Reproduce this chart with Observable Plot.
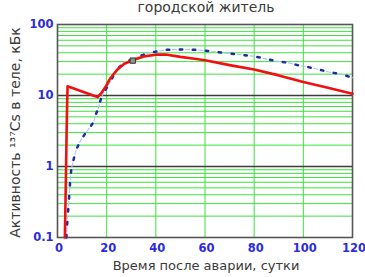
<!DOCTYPE html>
<html>
<head>
<meta charset="utf-8">
<script src="https://cdn.jsdelivr.net/npm/d3@7"></script>
<script src="https://cdn.jsdelivr.net/npm/@observablehq/plot@0.6"></script>
<style>
  html, body { margin: 0; padding: 0; background: #fff; }
</style>
</head>
<body>
<div id="chart"></div>
<script>
// Red curve (solid)
const redDays = [3.0, 3.3, 3.5, 3.7, 3.9, 4.1, 10, 16.3, 18, 19.7, 21.5, 24.5, 27.2, 30.6, 35.3, 40, 44, 50, 55, 60, 70, 80, 90, 100, 110, 120];
const redVals = [0.1, 0.4, 1, 3, 7, 13.5, 11.4, 9.5, 11, 13.5, 17.5, 23.5, 28, 31.3, 35.6, 37.6, 37.8, 35, 33.2, 31.3, 26.8, 23.2, 19.2, 15.5, 12.9, 10.6];

// Blue curve (dotted)
const blueDays = [3.6, 4.15, 4.56, 4.8, 5.1, 5.6, 6.7, 7.6, 9.5, 11.4, 13, 14.8, 15.5, 16.6, 17.1, 17.9, 18.6, 19.7, 21.1, 23.1, 25.1, 27.2, 30, 33.3, 36, 40, 44.5, 49, 54, 58.4, 62.5, 67.2, 72, 76, 80.4, 85, 89, 94, 98, 102, 106.5, 110.4, 115.5, 120];
const blueVals = [0.1, 0.2, 0.3, 0.41, 0.58, 0.91, 1.32, 1.73, 2.35, 2.96, 3.47, 4.3, 5.3, 6.6, 7.8, 9.4, 10.8, 12.3, 14.7, 20, 25, 29.5, 32, 35.6, 38.8, 41.5, 44, 44.6, 44.3, 43.5, 42, 40, 38.3, 37, 35.5, 32.5, 30.6, 28.8, 26.6, 25.1, 23.2, 21.4, 19.9, 17.8];

// Marker
const markerDays = [30.6];
const markerVals = [31];

// Axes
const xTicks = [0, 20, 40, 60, 80, 100, 120];
const xGrid = [20, 40, 60, 80, 100];
const yTicks = [0.1, 1, 10, 100];
const yDecadeLines = [1, 10];
const yMinor = [0.2,0.3,0.4,0.5,0.6,0.7,0.8,0.9, 2,3,4,5,6,7,8,9, 20,30,40,50,60,70,80,90];

const titleText = "городской житель";
const xLabel = "Время после аварии, сутки";
const yLabel = "Активность ¹³⁷Cs в теле, кБк";

const red = redDays.map((d, i) => ({d, v: redVals[i]}));
const blue = blueDays.map((d, i) => ({d, v: blueVals[i]}));
const marker = markerDays.map((d, i) => ({d, v: markerVals[i]}));

const green = "#3fe03f";
const tickBlue = "#2b2bdc";
const textGray = "#3a3a3a";

const chart = Plot.plot({
  width: 365,
  height: 277,
  marginLeft: 57,
  marginRight: 13,
  marginTop: 24,
  marginBottom: 40,
  style: {fontFamily: "DejaVu Sans", background: "#fff"},
  x: {domain: [0, 120], axis: null},
  y: {type: "log", domain: [0.1, 100], axis: null},
  marks: [
    Plot.ruleY(yMinor, {stroke: green, strokeWidth: 1}),
    Plot.ruleX(xGrid, {stroke: green, strokeWidth: 1}),
    Plot.ruleY(yDecadeLines, {stroke: "#3c3c3c", strokeWidth: 1.4}),
    Plot.frame({stroke: "#555", strokeWidth: 1.6}),
    Plot.line(blue, {x: "d", y: "v", stroke: "#a4c6f4", strokeWidth: 1.1, strokeDasharray: "4,9", strokeDashoffset: -5.8}),
    Plot.line(blue, {x: "d", y: "v", stroke: "#1d2aa8", strokeWidth: 2.5, strokeDasharray: "2.5,10.5"}),
    Plot.line(red, {x: "d", y: "v", stroke: "#f01010", strokeWidth: 2.6}),
    Plot.dot(marker, {x: "d", y: "v", symbol: "square", r: 3, fill: "#8a9a8a", stroke: "#333", strokeWidth: 1}),
    Plot.axisX(xTicks, {label: null, tickSize: 0, tickPadding: 6, dx: 1.5, color: tickBlue, fontWeight: "bold", fontSize: 11.5, tickFormat: d => String(d)}),
    Plot.axisY(yTicks, {label: null, tickSize: 0, tickPadding: 3, dx: -1, color: tickBlue, fontWeight: "bold", fontSize: 11.5, tickFormat: d => d === 0.1 ? "0.1" : String(d)}),
    Plot.text([titleText], {frameAnchor: "top", dy: -22.5, dx: 1, fontSize: 14, fill: textGray}),
    Plot.text([xLabel], {frameAnchor: "bottom", dy: 32, dx: 1, fontSize: 13, fill: textGray}),
    Plot.text([yLabel], {frameAnchor: "left", textAnchor: "middle", dx: -42, dy: 1.5, rotate: -90, fontSize: 14, fill: textGray})
  ]
});
document.getElementById("chart").appendChild(chart);
</script>
</body>
</html>
